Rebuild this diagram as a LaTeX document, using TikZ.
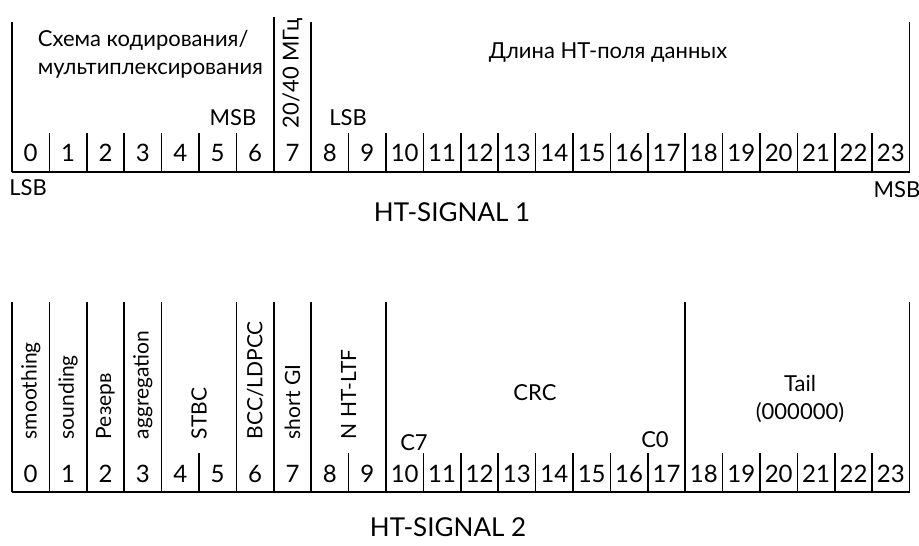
\documentclass[tikz,border=0pt]{standalone}
\usepackage{fontspec}
\setmainfont{Lato}
\usetikzlibrary{calc,positioning}

\begin{document}
\begin{tikzpicture}[x=1pt, y=-1pt, line width=1.7pt,
                    every node/.style={inner sep=0pt, font=\fontsize{22}{28}\selectfont},
                    bitnum/.style={font=\fontsize{24}{26}\selectfont},
                    vlabel/.style={rotate=90, anchor=west, font=\fontsize{21}{24}\selectfont}]
    \useasboundingbox (0,0) rectangle (919,546);
    % HT-SIGNAL 1
    \draw (12,172) -- (909.6,172);
    \foreach \i in {0,8,24} \draw (12+37.4*\i,22) -- (12+37.4*\i,172);
    \draw (12+37.4*7,17) -- (12+37.4*7,172);
    \foreach \i in {1,...,6,9,10,...,23} \draw (12+37.4*\i,133) -- (12+37.4*\i,172);
    \foreach \i in {0,...,23} \node[bitnum] (a\i) at (30.7+37.4*\i,153) {\i};
    \node[anchor=west, align=left] (coding) at (37,54) {Схема кодирования/\\мультиплексирования};
    \node (msbA) at (233,118) {MSB};
    \node (lsbB) at (348,118) {LSB};
    \node[rotate=90, anchor=west] (bw) at (292.5,129) {20/40 МГц};
    \node (len) at (608,53) {Длина HT-поля данных};
    \node (lsbA) at (28,188) {LSB};
    \node (msbB) at (897,190) {MSB};
    \node[font=\fontsize{26}{28}\selectfont] (sig1) at (452,212) {HT-SIGNAL 1};
    % HT-SIGNAL 2
    \draw (12,492) -- (909.6,492);
    \foreach \i in {0,1,2,3,4,6,7,8,10,18,24} \draw (12+37.4*\i,302) -- (12+37.4*\i,492);
    \foreach \i in {5,9,11,12,...,17,19,20,...,23} \draw (12+37.4*\i,453) -- (12+37.4*\i,492);
    \foreach \i in {0,...,23} \node[bitnum] (b\i) at (30.7+37.4*\i,474) {\i};
    \node[vlabel] (smooth) at (30.7,440) {smoothing};
    \node[vlabel] (sound) at (68.1,440) {sounding};
    \node[vlabel] (resv) at (105.5,440) {Резерв};
    \node[vlabel] (aggr) at (142.9,440) {aggregation};
    \node[vlabel] (stbc) at (199,440) {STBC};
    \node[vlabel] (fec) at (255.1,440) {BCC/LDPCC};
    \node[vlabel] (sgi) at (292.5,440) {short GI};
    \node[vlabel] (nltf) at (348.6,440) {N HT-LTF};
    \node (crc) at (535,393) {CRC};
    \node (c7) at (414,443) {C7};
    \node (c0) at (655,440) {C0};
    \node[align=center] (tail) at (800,399) {Tail\\(000000)};
    \node[font=\fontsize{26}{28}\selectfont] (sig2) at (448,527) {HT-SIGNAL 2};
\end{tikzpicture}
\end{document}
